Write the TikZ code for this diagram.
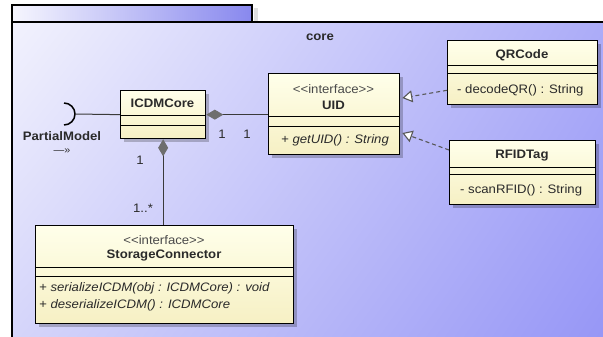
\documentclass[tikz,border=0pt]{standalone}
\usepackage{fontspec}
\setmainfont{Liberation Sans}[FakeStretch=1.07]
\usetikzlibrary{arrows.meta,calc,shadows,shadings}
\definecolor{bgTL}{HTML}{F2F2FD}
\definecolor{bgTR}{HTML}{AAAAF8}
\definecolor{bgBL}{HTML}{D4D4FA}
\definecolor{bgBR}{HTML}{9494F6}
\definecolor{tabL}{HTML}{F6F6FE}
\definecolor{tabR}{HTML}{8888EE}
\definecolor{boxA}{HTML}{FFFFEA}
\definecolor{boxB}{HTML}{F6F0C4}
\definecolor{txt}{HTML}{2A2A2A}
\definecolor{lnk}{HTML}{3A3A3A}
\definecolor{dia}{HTML}{6E6E6E}
\tikzset{
  cls/.style={draw=black, line width=1.3pt, top color=boxA, bottom color=boxB,
    anchor=north west, inner sep=0pt,
    drop shadow={shadow xshift=3pt, shadow yshift=-3pt, opacity=0.22, fill=black}},
  sep/.style={draw=black, line width=1pt},
  bname/.style={font=\fontsize{12.3}{14}\selectfont\bfseries, text=txt, inner sep=0pt},
  ster/.style={font=\fontsize{12.3}{14}\selectfont, text=txt!85, inner sep=0pt},
  meth/.style={font=\fontsize{12.3}{14}\selectfont, text=txt, inner sep=0pt, anchor=west},
  imeth/.style={font=\fontsize{12.3}{14}\selectfont\itshape, text=txt, inner sep=0pt, anchor=west},
  mult/.style={font=\fontsize{12.3}{14}\selectfont, text=txt, inner sep=0pt},
  assoc/.style={draw=lnk, line width=1pt},
  real/.style={draw=lnk!85, line width=1.1pt, dash pattern=on 4pt off 3pt,
    -{Triangle[open, length=10pt, width=12pt, fill=white]}},
}
\begin{document}
\begin{tikzpicture}[x=1pt, y=-1pt]
\useasboundingbox (0,0) rectangle (603,337);
\fill[white] (0,0) rectangle (603,337);
% package
\fill[black, opacity=0.12] (254,8) rectangle (258,22);
\shade[left color=tabL, right color=tabR] (12,5) rectangle (252,22);
\draw[line width=1.5pt] (12,22) -- (12,5) -- (252,5) -- (252,22);
\shade[upper left=bgTL, upper right=bgTR, lower left=bgBL, lower right=bgBR] (12,22) rectangle (620,350);
\draw[line width=1.5pt] (620,22) -- (12,22) -- (12,350);
\node[font=\fontsize{12.3}{14}\selectfont\bfseries, text=txt, inner sep=0pt] (core) at (320,37) {core};

% classes
\node[cls, minimum width=85pt, minimum height=48pt] (icdm) at (120,90) {};
\draw[sep] (120,116) -- (205,116);
\draw[sep] (120,125) -- (205,125);
\node[bname] (icdmn) at (162.5,103) {ICDMCore};

\node[cls, minimum width=131pt, minimum height=81pt] (uid) at (268,73) {};
\draw[sep] (268,117) -- (399,117);
\draw[sep] (268,126) -- (399,126);
\node[ster] (uids) at (333.5,89) {<\kern0pt<interface>\kern0pt>};
\node[bname] (uidn) at (333.5,105) {UID};
\node[imeth] (uidm) at (281,140) {+ getUID() : String};

\node[cls, minimum width=150pt, minimum height=64pt] (qr) at (447,40) {};
\draw[sep] (447,66) -- (597,66);
\draw[sep] (447,74) -- (597,74);
\node[bname] (qrn) at (522,55) {QRCode};
\node[meth] (qrm) at (457,90) {- decodeQR() : String};

\node[cls, minimum width=146pt, minimum height=64pt] (rfid) at (449,140) {};
\draw[sep] (449,167) -- (595,167);
\draw[sep] (449,174) -- (595,174);
\node[bname] (rfidn) at (522,156) {RFIDTag};
\node[meth] (rfidm) at (460,190) {- scanRFID() : String};

\node[cls, minimum width=258pt, minimum height=98pt] (sc) at (35,225) {};
\draw[sep] (35,267) -- (293,267);
\draw[sep] (35,276) -- (293,276);
\node[ster] (scs) at (164,240) {<\kern0pt<interface>\kern0pt>};
\node[bname] (scn) at (164,256) {StorageConnector};
\node[imeth] (scm1) at (39,288) {+ serializeICDM(obj : ICDMCore) : void};
\node[imeth] (scm2) at (39,305) {+ deserializeICDM() : ICDMCore};

% required interface
\coordinate (sockb) at (64,125);
\coordinate (socke) at (75,114);
\draw[line width=1.5pt, black] (sockb) arc[start angle=90, end angle=-90, radius=11];
\draw[assoc] (socke) -- (icdm.west);
\node[bname] (pm) at (62,136) {PartialModel};
\node[mult, font=\fontsize{10}{11}\selectfont] (pmarr) at (62,151) {—»};

% associations
\draw[assoc, {Diamond[length=17pt, width=10pt, fill=dia, color=dia]}-] (icdm.east) -- (icdm.east -| uid.west);
\draw[assoc, {Diamond[length=17pt, width=10pt, fill=dia, color=dia]}-] (icdm.south) -- (icdm.south |- sc.north);
\node[mult] (m1) at (222,134) {1};
\node[mult] (m2) at (247,134) {1};
\node[mult] (m3) at (140,160) {1};
\node[mult] (m4) at (143,208) {1..*};

% realizations
\draw[real] ($(qr.south west)+(0,-15)$) -- ($(uid.north east)+(2,25)$);
\draw[real] ($(rfid.north west)+(0,10)$) -- ($(uid.north east)+(2,60)$);
\end{tikzpicture}
\end{document}
